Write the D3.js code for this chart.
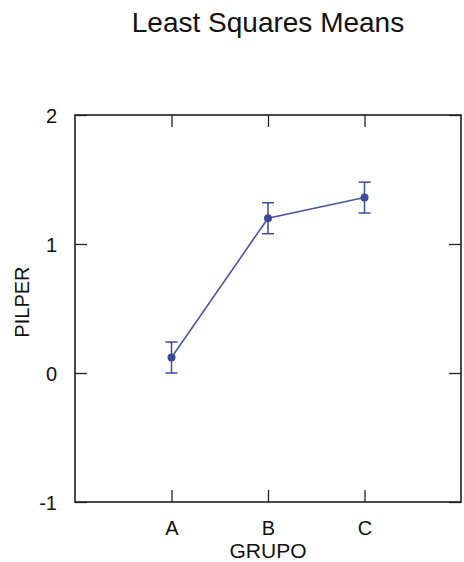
<!DOCTYPE html>
<html>
<head>
<meta charset="utf-8">
<script src="https://cdn.jsdelivr.net/npm/d3@7"></script>
<style>
  body { margin: 0; background: #fff; }
  text { font-family: "Liberation Sans", Arial, sans-serif; fill: #111; }
</style>
</head>
<body>
<div id="chart"></div>
<script>
// data
var groups = ["A", "B", "C"];
var means = [0.12, 1.20, 1.36];
var stdErr = [0.12, 0.12, 0.12];
var yTicks = [-1, 0, 1, 2];

var totalW = 464, totalH = 562;
var margin = {top: 115, right: 3, bottom: 60, left: 75},
    width = totalW - margin.left - margin.right,
    height = totalH - margin.top - margin.bottom;

var svg = d3.select("#chart")
  .append("svg")
    .attr("width", totalW)
    .attr("height", totalH);

var g = svg.append("g")
    .attr("transform", "translate(" + margin.left + "," + margin.top + ")");

// x: categories sit at 1..3 on a 0..4 range
var x = d3.scaleLinear().domain([0, groups.length + 1]).range([0, width]);
var y = d3.scaleLinear().domain([-1, 2]).range([height, 0]);

var xPos = function(i) { return x(i + 1); };

// title
svg.append("text")
  .attr("x", margin.left + width / 2)
  .attr("y", 32)
  .attr("text-anchor", "middle")
  .style("font-size", "28px")
  .text("Least Squares Means");

// frame
g.append("rect")
  .attr("width", width)
  .attr("height", height)
  .attr("fill", "none")
  .attr("stroke", "#111")
  .attr("stroke-width", 1.5);

// axes with inward ticks
var tickLen = 12;
var xAxisBottom = d3.axisBottom(x)
  .tickValues(groups.map(function(d, i) { return i + 1; }))
  .tickFormat(function(d) { return groups[d - 1]; })
  .tickSizeInner(-tickLen).tickSizeOuter(0).tickPadding(tickLen + 7);
var xb = g.append("g").attr("transform", "translate(0," + height + ")").call(xAxisBottom);

var xAxisTop = d3.axisTop(x)
  .tickValues(groups.map(function(d, i) { return i + 1; }))
  .tickFormat("")
  .tickSizeInner(-tickLen).tickSizeOuter(0);
var xt = g.append("g").call(xAxisTop);

var yAxisLeft = d3.axisLeft(y)
  .tickValues(yTicks)
  .tickFormat(function(d) { return String(d); })
  .tickSizeInner(-tickLen).tickSizeOuter(0).tickPadding(tickLen + 6);
var yl = g.append("g").call(yAxisLeft);

var yAxisRight = d3.axisRight(y)
  .tickValues(yTicks)
  .tickFormat("")
  .tickSizeInner(-tickLen).tickSizeOuter(0);
var yr = g.append("g").attr("transform", "translate(" + width + ",0)").call(yAxisRight);

[xb, xt, yl, yr].forEach(function(a) {
  a.select(".domain").remove();
  a.selectAll(".tick line").attr("stroke", "#222").attr("stroke-width", 1.3);
  a.selectAll("text").style("font-size", "20px").attr("fill", "#111")
    .style("font-family", "'Liberation Sans', Arial, sans-serif");
});
yl.selectAll("text").attr("dy", "0.36em");

// axis titles
svg.append("text")
  .attr("x", margin.left + width / 2)
  .attr("y", 558)
  .attr("text-anchor", "middle")
  .style("font-size", "21px")
  .text("GRUPO");

svg.append("text")
  .attr("transform", "translate(29," + (margin.top + y(0.55)) + ")rotate(-90)")
  .attr("text-anchor", "middle")
  .style("font-size", "20px")
  .text("PILPER");

// connecting line
var col = "#3d4a98";
g.append("path")
  .datum(means)
  .attr("fill", "none")
  .attr("stroke", "#4a579e")
  .attr("stroke-width", 1.6)
  .attr("d", d3.line()
    .x(function(d, i) { return xPos(i); })
    .y(function(d) { return y(d); }));

// error bars
var cap = 6;
var eb = g.selectAll(".eb")
  .data(means)
  .enter()
  .append("g")
    .attr("class", "eb")
    .attr("stroke", col)
    .attr("stroke-width", 1.5);
eb.append("line")
  .attr("x1", function(d, i) { return xPos(i); })
  .attr("x2", function(d, i) { return xPos(i); })
  .attr("y1", function(d, i) { return y(d + stdErr[i]); })
  .attr("y2", function(d, i) { return y(d - stdErr[i]); });
eb.append("line")
  .attr("x1", function(d, i) { return xPos(i) - cap; })
  .attr("x2", function(d, i) { return xPos(i) + cap; })
  .attr("y1", function(d, i) { return y(d + stdErr[i]); })
  .attr("y2", function(d, i) { return y(d + stdErr[i]); });
eb.append("line")
  .attr("x1", function(d, i) { return xPos(i) - cap; })
  .attr("x2", function(d, i) { return xPos(i) + cap; })
  .attr("y1", function(d, i) { return y(d - stdErr[i]); })
  .attr("y2", function(d, i) { return y(d - stdErr[i]); });

// points
g.selectAll(".pt")
  .data(means)
  .enter()
  .append("circle")
    .attr("class", "pt")
    .attr("cx", function(d, i) { return xPos(i); })
    .attr("cy", function(d) { return y(d); })
    .attr("r", 4)
    .attr("fill", col);
</script>
</body>
</html>
